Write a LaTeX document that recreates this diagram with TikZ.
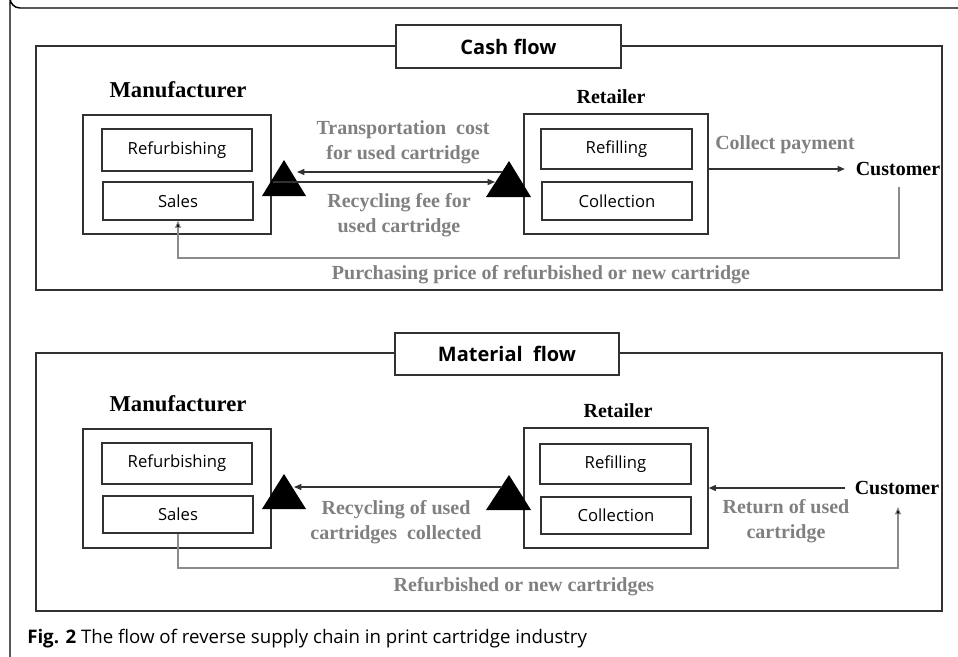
\documentclass[tikz,border=0pt]{standalone}
\usepackage{fontspec}
\setmainfont{Liberation Serif}
\newfontfamily\sansf{Open Sans}
\usetikzlibrary{arrows.meta}
\definecolor{lc}{RGB}{50,50,50}
\definecolor{gt}{RGB}{128,128,128}
\definecolor{gl}{RGB}{140,140,140}
\tikzset{
  px/.style 2 args={minimum width=#1*0.75pt, minimum height=#2*0.75pt},
  panel/.style={draw=lc, line width=0.9pt, inner sep=0pt},
  titlebox/.style={draw=lc, fill=white, line width=0.9pt, inner sep=0pt, font=\sansf\bfseries\fontsize{15}{18}\selectfont},
  orgbox/.style={draw=lc, line width=0.9pt, inner sep=0pt},
  subbox/.style={draw=lc, line width=0.9pt, inner sep=0pt, font=\sansf\fontsize{12.5}{15}\selectfont},
  bigname/.style={font=\bfseries\fontsize{17}{20}\selectfont, inner sep=0pt},
  actorname/.style={font=\bfseries\fontsize{15}{18}\selectfont, inner sep=0pt},
  glabel/.style={text=gt, font=\bfseries\fontsize{15}{18.75}\selectfont, align=center, inner sep=0pt},
  trifill/.style={fill=black},
  arr/.style={draw=lc, line width=0.8pt, -{Triangle[length=5.5pt,width=4.5pt]}},
  garr/.style={draw=gl, line width=0.8pt, -{Triangle[length=5.5pt,width=4.5pt,fill=black]}},
}
\begin{document}
\begin{tikzpicture}[x=0.75pt,y=-0.75pt]
\useasboundingbox (0,0) rectangle (958,657);
% outer frame
\draw[black, line width=1.1pt] (962,8) -- (20,8) arc[start angle=90,end angle=180,radius=10] -- (10,660);

% ===== Cash flow =====
\node[panel, px={906}{244}] (p1) at (489,168) {};
\node[titlebox, px={225}{43}] (t1) at (508.5,46.5) {Cash flow};
\node[bigname] (m1) at (178,90) {Manufacturer};
\node[orgbox, px={188}{119}] (mb1) at (177,174.5) {};
\node[subbox, px={150}{42}] (rf1) at (177,150) {Refurbishing};
\node[subbox, px={150}{38}] (s1) at (178,201) {Sales};
\node[actorname] (r1) at (611,97) {Retailer};
\node[orgbox, px={184}{120}] (rb1) at (616,174) {};
\node[subbox, px={151}{40}] (fi1) at (616.5,149) {Refilling};
\node[subbox, px={150}{38}] (co1) at (617,201) {Collection};
\node[actorname] (c1) at (898,169) {Customer};
\fill[trifill] (262,196) -- (284,160) -- (306,196) -- cycle;
\fill[trifill] (486,197) -- (509,161) -- (531,197) -- cycle;
\coordinate (a1s) at (502,172); \coordinate (a1e) at (297,172);
\coordinate (a2s) at (273,182); \coordinate (a2e) at (495,182);
\draw[arr] (a1s) -- (a1e);
\draw[arr] (a2s) -- (a2e);
\node[glabel] (l1) at (403,142.5) {Transportation\ \ cost\\for used cartridge};
\node[glabel] (l2) at (399,215) {Recycling fee for\\used cartridge};
\draw[arr, shorten >=8pt] (rb1.east |- 0,169) -- (c1.west |- 0,169);
\node[glabel] (l3) at (785,145) {Collect payment};
\draw[garr] (899,187) -- (899,258) -- (178,258) -- (s1.south);
\node[glabel] (l4) at (541,275) {Purchasing price of refurbished or new cartridge};

% ===== Material flow =====
\node[panel, px={906}{258}] (p2) at (489,482) {};
\node[titlebox, px={224}{42}] (t2) at (507,354) {Material\ \ flow};
\node[bigname] (m2) at (178,404) {Manufacturer};
\node[orgbox, px={188}{119}] (mb2) at (177,488.5) {};
\node[subbox, px={150}{41}] (rf2) at (177,463.5) {Refurbishing};
\node[subbox, px={150}{37}] (s2) at (178,514.5) {Sales};
\node[actorname] (r2) at (618,411) {Retailer};
\node[orgbox, px={184}{120}] (rb2) at (616,488) {};
\node[subbox, px={151}{40}] (fi2) at (615.5,464) {Refilling};
\node[subbox, px={150}{37}] (co2) at (616,515.5) {Collection};
\node[actorname] (c2) at (897,488) {Customer};
\fill[trifill] (262,509) -- (284,474) -- (306,509) -- cycle;
\fill[trifill] (486,510) -- (509,475) -- (531,510) -- cycle;
\coordinate (b1s) at (502,487); \coordinate (b1e) at (294,487);
\draw[arr] (b1s) -- (b1e);
\node[glabel] (l5) at (396,522) {Recycling of used\\cartridges\ \ collected};
\draw[arr, shorten <=7pt] (c2.west) -- (rb2.east |- 0,488);
\node[glabel] (l6) at (786,521) {Return of used\\cartridge};
\draw[garr] (s2.south) -- (178,568) -- (898,568) -- (898,507);
\node[glabel] (l7) at (524,587) {Refurbished or new cartridges};

% caption
\node[anchor=base west, inner sep=0pt, font=\sansf\fontsize{14}{17}\selectfont] (cap) at (27,643) {\textbf{Fig. 2} The flow of reverse supply chain in print cartridge industry};
\end{tikzpicture}
\end{document}
